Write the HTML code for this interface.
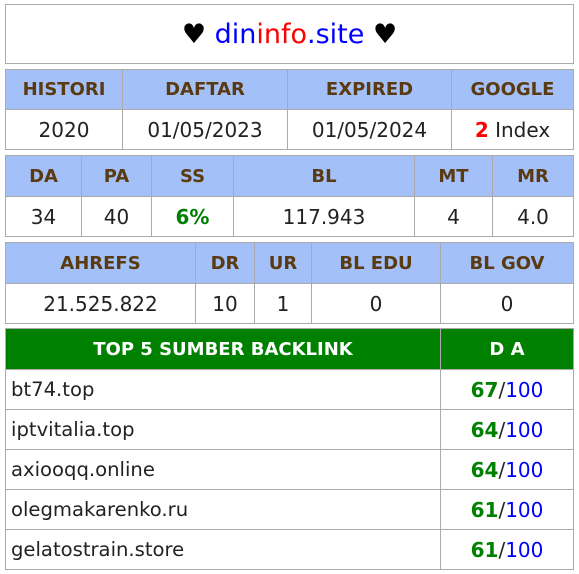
<!DOCTYPE html>
<html><head><meta charset="utf-8"><style>
body{margin:0;width:579px;height:574px;background:#fff;position:relative;font-family:"DejaVu Sans","Liberation Sans",sans-serif;overflow:hidden}
.c{position:absolute;box-sizing:border-box;border:1px solid #aaa;display:flex;align-items:center;justify-content:center;font-size:20px;color:#222}
.h{background:#a4c0f8;color:#5a3a10;font-weight:bold;font-size:18px}
.g{background:#008000;color:#fff;font-weight:bold;font-size:18px}
.l{justify-content:flex-start;padding-left:5px;font-size:19.6px}
.gr{color:#008000;font-weight:bold}.bl{color:#0000ff}.rd{color:#ff0000;font-weight:bold}
</style></head><body>
<div class="c" style="left:5px;top:4px;width:569px;height:60px;font-size:27px;color:#000">♥&nbsp;<span class="bl">din</span><span style="color:#f00">info</span><span class="bl">.site</span>&nbsp;♥</div>
<div id="t"></div>
<script>
var rows=[
[69,40,true,[[5,122,'HISTORI'],[122,287,'DAFTAR'],[287,451,'EXPIRED'],[451,573,'GOOGLE']]],
[109,40,false,[[5,122,'2020'],[122,287,'01/05/2023'],[287,451,'01/05/2024'],[451,573,'<span class="rd">2</span>&nbsp;Index']]],
[155,41,true,[[5,81,'DA'],[81,151,'PA'],[151,233,'SS'],[233,414,'BL'],[414,492,'MT'],[492,573,'MR']]],
[196,40,false,[[5,81,'34'],[81,151,'40'],[151,233,'<span class="gr">6%</span>'],[233,414,'117.943'],[414,492,'4'],[492,573,'4.0']]],
[242,41,true,[[5,195,'AHREFS'],[195,254,'DR'],[254,311,'UR'],[311,440,'BL EDU'],[440,573,'BL GOV']]],
[283,40,false,[[5,195,'21.525.822'],[195,254,'10'],[254,311,'1'],[311,440,'0'],[440,573,'0']]]
];
var sites=['bt74.top','iptvitalia.top','axiooqq.online','olegmakarenko.ru','gelatostrain.store'];
var da=[67,64,64,61,61];
function cell(x1,x2,y,h,html,cls,name){var d=document.createElement('div');d.className='c '+cls;
d.style.left=x1+'px';d.style.width=(x2-x1+1)+'px';d.style.top=y+'px';d.style.height=(h+1)+'px';d.innerHTML=html;


document.body.appendChild(d);}
rows.forEach(function(r){r[3].forEach(function(c){cell(c[0],c[1],r[0],r[1],c[2],r[2]?'h':'',(r[2]?'header-':'value-')+c[2].replace(/<[^>]+>/g,'').toLowerCase().replace(/[^a-z0-9]+/g,'-'));});});
cell(5,440,328,41,'TOP 5 SUMBER BACKLINK','g','backlink-header');
cell(440,573,328,41,'D A','g','da-header');
sites.forEach(function(s,i){var y=369+i*40;
cell(5,440,y,40,s,'l','backlink-site');
cell(440,573,y,40,'<span class="gr">'+da[i]+'</span>/<span class="bl">100</span>','','backlink-da');});
</script>
</body></html>
